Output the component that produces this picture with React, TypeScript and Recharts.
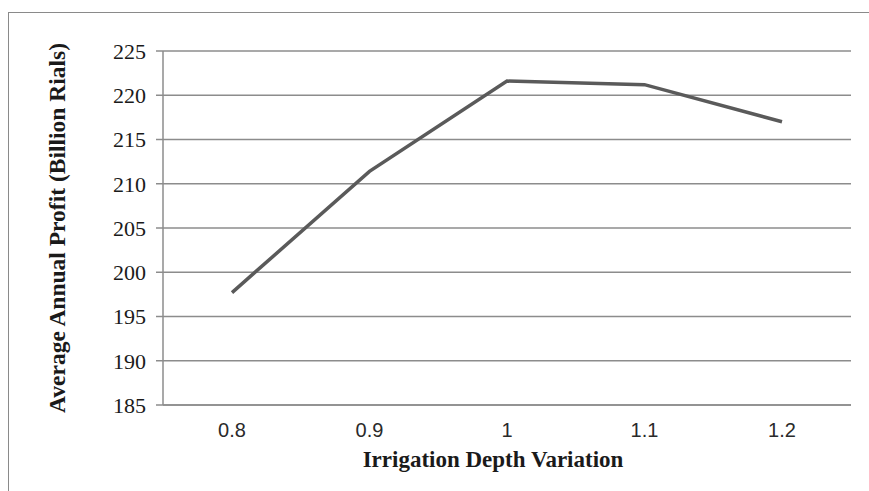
import React from "react";
import { LineChart, Line, XAxis, YAxis, CartesianGrid } from "recharts";

const categories = ["0.8", "0.9", "1", "1.1", "1.2"];
const profit = [197.7, 211.4, 221.6, 221.2, 217.0];
const yTicks = [185, 190, 195, 200, 205, 210, 215, 220, 225];
const xTitle = "Irrigation Depth Variation";
const yTitle = "Average Annual  Profit (Billion Rials)";

const data = categories.map((c, i) => ({ cat: c, value: profit[i] }));

const serif = "'Liberation Serif', 'Times New Roman', serif";
const sans = "'Liberation Sans', Arial, sans-serif";

const YTitle = (props: any) => {
  const vb = props.viewBox;
  const cx = vb.x - 26;
  const cy = vb.y + vb.height / 2;
  return (
    <text
      x={cx}
      y={cy}
      transform={`rotate(-90, ${cx}, ${cy})`}
      textAnchor="middle"
      dominantBaseline="central"
      fontFamily={serif}
      fontWeight="bold"
      fontSize={23.5}
      fill="#1a1a1a"
    >
      {yTitle}
    </text>
  );
};

const XTitle = (props: any) => {
  const vb = props.viewBox;
  return (
    <text
      x={vb.x + vb.width / 2 - 14}
      y={459}
      textAnchor="middle"
      dominantBaseline="central"
      fontFamily={serif}
      fontWeight="bold"
      fontSize={23}
      fill="#1a1a1a"
    >
      {xTitle}
    </text>
  );
};

export default function App() {
  return (
    <div style={{ position: "absolute", left: 0, top: 0, width: 869, height: 491, background: "#fff", overflow: "hidden" }}>
      <div
        style={{
          position: "absolute",
          left: 8,
          top: 12,
          width: 900,
          height: 500,
          borderTop: "1.5px solid #8a8a8a",
          borderLeft: "1.5px solid #8a8a8a",
        }}
      />
      <div style={{ position: "absolute", left: 0, top: 0 }}>
        <LineChart width={869} height={491} data={data} margin={{ top: 51, right: 18, bottom: 56, left: 83 }}>
          <CartesianGrid vertical={false} stroke="#8c8c8c" strokeWidth={1.5} />
          <XAxis
            dataKey="cat"
            height={30}
            padding={{ left: 69, right: 69 }}
            axisLine={{ stroke: "#8c8c8c", strokeWidth: 1.5 }}
            tickLine={false}
            tickSize={0}
            tickMargin={18}
            tick={{ fontFamily: sans, fontSize: 20, fill: "#2a2a2a" }}
            label={<XTitle />}
          />
          <YAxis
            width={80}
            domain={[185, 225]}
            ticks={yTicks}
            interval={0}
            axisLine={{ stroke: "#8c8c8c", strokeWidth: 1.5 }}
            tickLine={{ stroke: "#8c8c8c", strokeWidth: 1.5 }}
            tickSize={7}
            tickMargin={10}
            tick={{ fontFamily: serif, fontSize: 22, fill: "#1a1a1a" }}
            label={<YTitle />}
          />
          <Line
            type="linear"
            dataKey="value"
            stroke="#5a5a5a"
            strokeWidth={3.5}
            dot={false}
            isAnimationActive={false}
          />
        </LineChart>
      </div>
    </div>
  );
}
